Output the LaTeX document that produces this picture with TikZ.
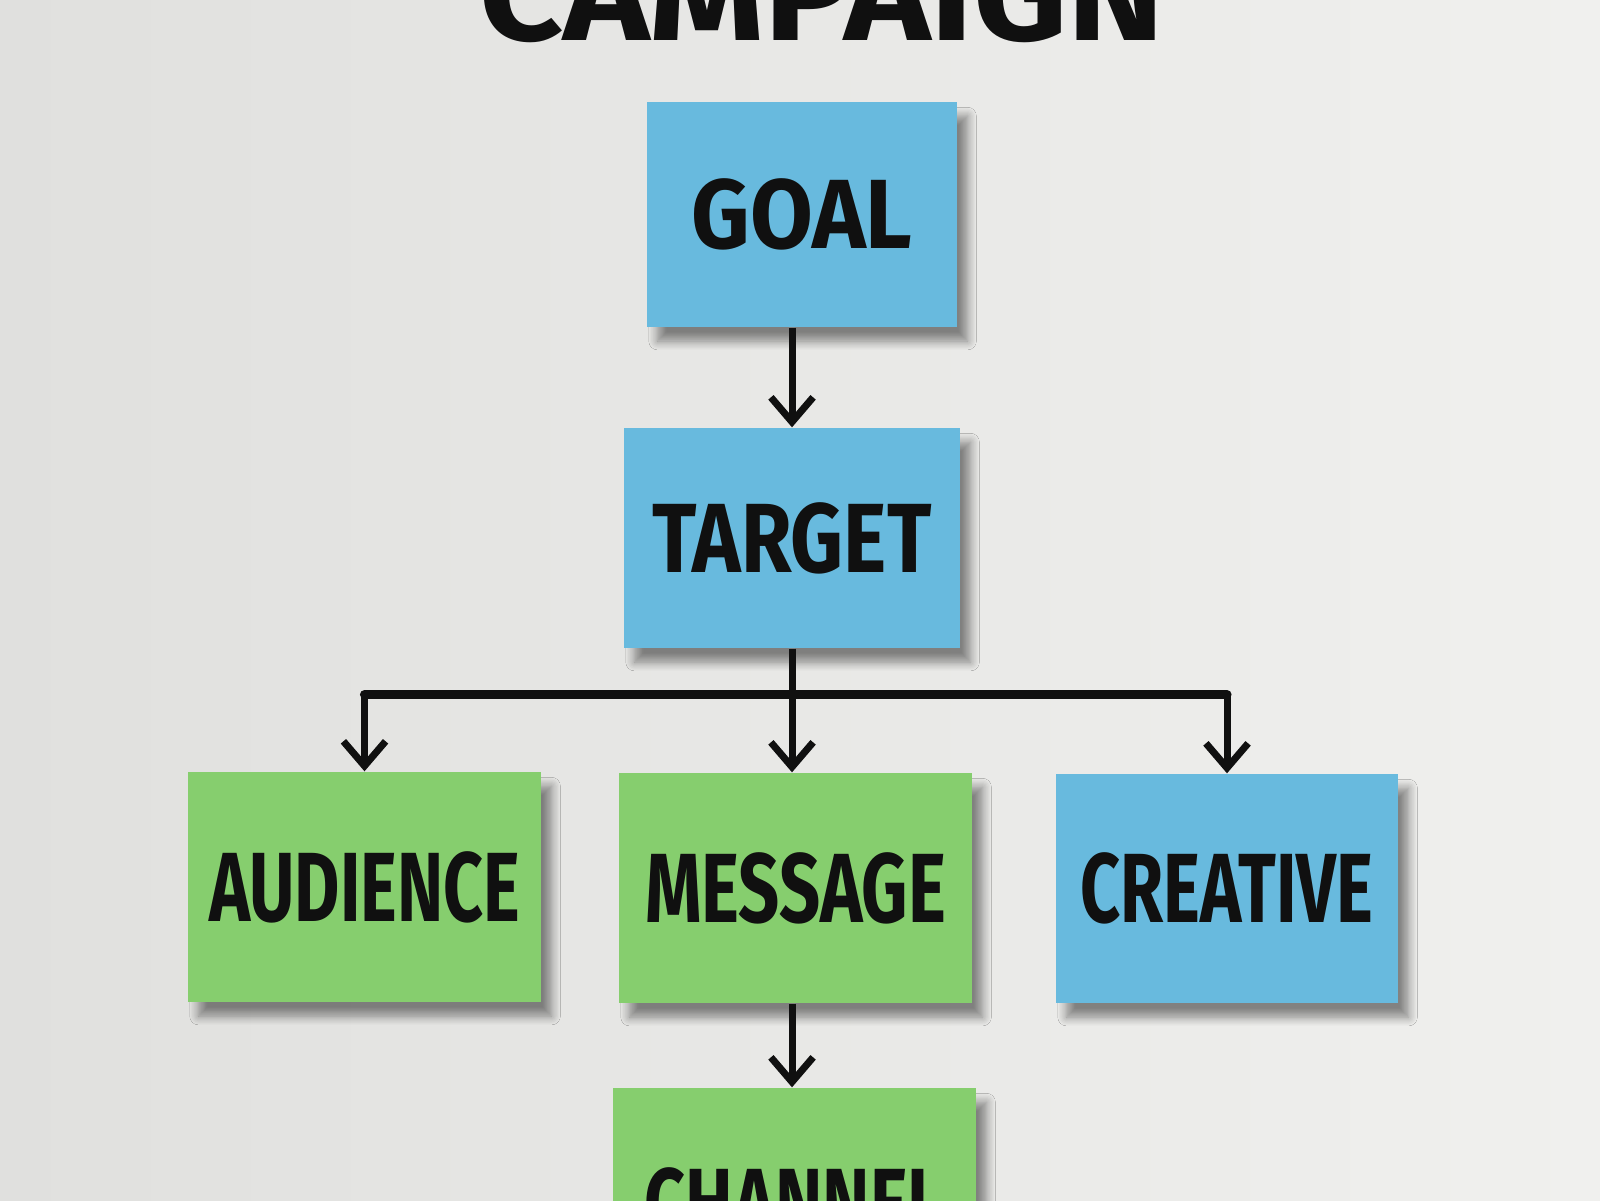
\documentclass[tikz,border=0pt]{standalone}
\usepackage{fontspec}
\usepackage{graphicx}
\setmainfont{Fira Sans}
\usetikzlibrary{arrows.meta,shadows,shadows.blur,positioning}

\definecolor{noteblue}{RGB}{104,186,222}
\definecolor{notegreen}{RGB}{134,206,110}
\definecolor{wallleft}{RGB}{224,224,222}
\definecolor{wallright}{RGB}{240,240,238}
\definecolor{ink}{RGB}{16,16,16}

% label text, squeezed to the width of the marker lettering
\newcommand\lbl[2]{\resizebox{#1}{\height}{\fontsize{28}{28}\selectfont\bfseries #2}}

\tikzset{
  note/.style 2 args={minimum width=#1cm, minimum height=#2cm, inner sep=0pt,
    text=ink, blur shadow={shadow xshift=3pt, shadow yshift=-4pt,
    shadow blur radius=2.5pt, shadow blur steps=8, shadow opacity=45,
    shadow blur extra rounding=0pt}},
  arr/.style={draw=ink, line width=2pt, -{Straight Barb[length=7pt,width=12pt,line width=2pt]}},
  bar/.style={draw=ink, line width=2.6pt, line cap=round}
}

\begin{document}
\begin{tikzpicture}[x=1cm,y=1cm]
	\clip (0,0) rectangle (16,-12);
	\shade[left color=wallleft, right color=wallright] (0,0) rectangle (16,-12);
	% title, cut off by the top edge
	\node[anchor=base, text=ink] (title) at (8.22,-0.40) {\resizebox{6.85cm}{\height}{\fontsize{38}{38}\selectfont\bfseries CAMPAIGN}};
	% notes
	\node[note={3.10}{2.25}, fill=noteblue] (goal) at (8.02,-2.145) {\lbl{2.21cm}{GOAL}};
	\node[note={3.36}{2.20}, fill=noteblue] (target) at (7.92,-5.38) {\lbl{2.79cm}{TARGET}};
	\node[note={3.53}{2.30}, fill=notegreen] (audience) at (3.645,-8.87) {\lbl{3.11cm}{AUDIENCE}};
	\node[note={3.53}{2.30}, fill=notegreen] (message) at (7.955,-8.88) {\lbl{3.01cm}{MESSAGE}};
	\node[note={3.42}{2.29}, fill=noteblue] (creative) at (12.27,-8.885) {\lbl{2.93cm}{CREATIVE}};
	\node[note={3.63}{2.30}, fill=notegreen] (channel) at (7.945,-12.03) {\lbl{3.00cm}{CHANNEL}};
	% connectors
	\draw[arr] (goal.south -| target) -- (target.north);
	\draw[draw=ink, line width=2pt] (target.south) -- ++(0,-0.46) coordinate (split);
	\draw[bar] (split -| audience) -- (split -| creative);
	\draw[arr] (split -| audience) -- (audience.north);
	\draw[arr] (split) -- (split |- message.north);
	\draw[arr] (split -| creative) -- (creative.north);
	\draw[arr] (message.south -| split) -- (channel.north -| split);
\end{tikzpicture}
\end{document}
